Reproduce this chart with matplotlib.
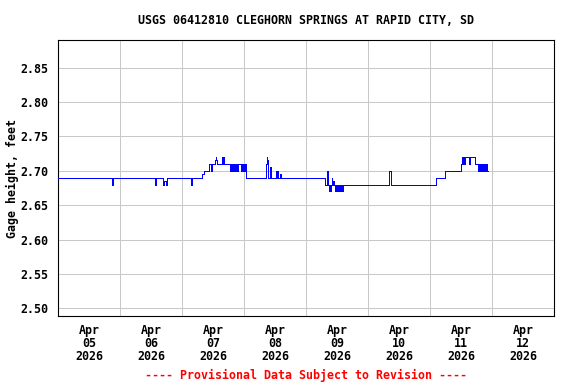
import matplotlib
matplotlib.use("Agg")
import matplotlib.pyplot as plt
import matplotlib.dates as mdates
import numpy as np
import pandas as pd

# ---- data ----
start_time = "2026-04-05 00:00"
# change points: hours after start, gage height (ft); held until next change
change_hours = [
    0.0, 21.0, 21.25, 37.5, 37.75, 40.75, 41.0, 41.75, 42.0, 51.5, 51.75,
    55.75, 56.5, 58.5, 59.25, 59.5, 60.75, 61.0, 61.25, 61.5,
    63.5, 63.75, 64.0, 64.25, 66.75, 67.0,
    67.5, 67.75, 68.0, 68.5, 68.75, 69.25, 69.5, 69.75,
    70.75, 71.0, 71.25, 71.75, 72.0, 72.25, 72.75,
    80.5, 80.75, 81.0, 81.25, 82.25, 82.5,
    84.5, 84.75, 85.0, 85.25, 85.75, 86.25,
    103.5, 104.25, 104.5, 105.0, 105.25, 105.5, 105.75, 106.0, 106.25, 106.5, 106.75,
    107.25, 107.5, 107.75, 108.0, 108.25, 108.75, 109.0, 109.5, 109.75, 110.25,
    128.25, 128.75, 146.5, 149.75, 156.0,
    156.5, 156.75, 157.0, 157.25, 157.5, 159.0, 159.5, 161.25,
    162.75, 163.0, 163.5, 163.75, 164.25, 164.5, 165.0, 165.25, 165.5, 165.75, 166.0,
    166.5,
]
gage_height = [
    2.69, 2.68, 2.69, 2.68, 2.69, 2.68, 2.685, 2.68, 2.69, 2.68, 2.69,
    2.695, 2.70, 2.71, 2.70, 2.71, 2.715, 2.72, 2.715, 2.71,
    2.72, 2.71, 2.72, 2.71, 2.70, 2.71,
    2.70, 2.71, 2.70, 2.71, 2.70, 2.71, 2.70, 2.71,
    2.70, 2.71, 2.70, 2.71, 2.70, 2.71, 2.69,
    2.71, 2.72, 2.715, 2.69, 2.705, 2.69,
    2.70, 2.69, 2.70, 2.69, 2.695, 2.69,
    2.68, 2.70, 2.68, 2.67, 2.68, 2.67, 2.68, 2.69, 2.68, 2.685, 2.68,
    2.67, 2.68, 2.67, 2.68, 2.67, 2.68, 2.67, 2.68, 2.67, 2.68,
    2.70, 2.68, 2.69, 2.70, 2.71,
    2.72, 2.71, 2.72, 2.71, 2.72, 2.71, 2.72, 2.71,
    2.70, 2.71, 2.70, 2.71, 2.70, 2.71, 2.70, 2.71, 2.70, 2.71, 2.70,
    2.70,
]
title = "USGS 06412810 CLEGHORN SPRINGS AT RAPID CITY, SD"
ylabel = "Gage height, feet"
footer = "---- Provisional Data Subject to Revision ----"
x_start = "2026-04-05"
x_end = "2026-04-13"
y_ticks = [2.50, 2.55, 2.60, 2.65, 2.70, 2.75, 2.80, 2.85]

# ---- figure ----
plt.rcParams["font.family"] = "DejaVu Sans Mono"
plt.rcParams["font.weight"] = "bold"
plt.rcParams["font.size"] = 8.4

fig = plt.figure(figsize=(5.76, 3.84), dpi=100)
L, R, T, B = 58, 554, 40, 316
ax = fig.add_axes([L / 576, 1 - B / 384, (R - L) / 576, (B - T) / 384])

times = pd.Timestamp(start_time) + pd.to_timedelta(change_hours, unit="h")
ax.plot(times, gage_height, drawstyle="steps-post", color="#0000ff",
        linewidth=0.72, antialiased=False, zorder=3)

ax.set_xlim(pd.Timestamp(x_start), pd.Timestamp(x_end))
ax.set_ylim(2.489, 2.890)

ax.xaxis.set_major_locator(mdates.DayLocator())
ax.xaxis.set_major_formatter(plt.NullFormatter())
ax.xaxis.set_minor_locator(mdates.HourLocator(byhour=12))
ax.xaxis.set_minor_formatter(mdates.DateFormatter("%b\n%d\n%Y"))
ax.set_yticks(y_ticks)
ax.yaxis.set_major_formatter(matplotlib.ticker.FormatStrFormatter("%.2f"))

ax.tick_params(axis="both", which="both", length=0)
ax.tick_params(axis="y", pad=7)
ax.tick_params(axis="x", which="minor", pad=6)
for lbl in ax.get_xticklabels(minor=True):
    lbl.set_linespacing(0.98)

ax.grid(True, which="major", color="#c8c8c8", linewidth=0.72)
for s in ax.spines.values():
    s.set_color("black")
    s.set_linewidth(0.8)

fig.text((L + R) / 2 / 576, 1 - 20 / 384, title, ha="center", va="center")
fig.text(12 / 576, 1 - 178 / 384, ylabel, rotation=90, ha="center", va="center")
fig.text((L + R) / 2 / 576, 1 - 375 / 384, footer, ha="center", va="center",
         color="#ff0000")

fig.savefig("out.png", dpi=100)
